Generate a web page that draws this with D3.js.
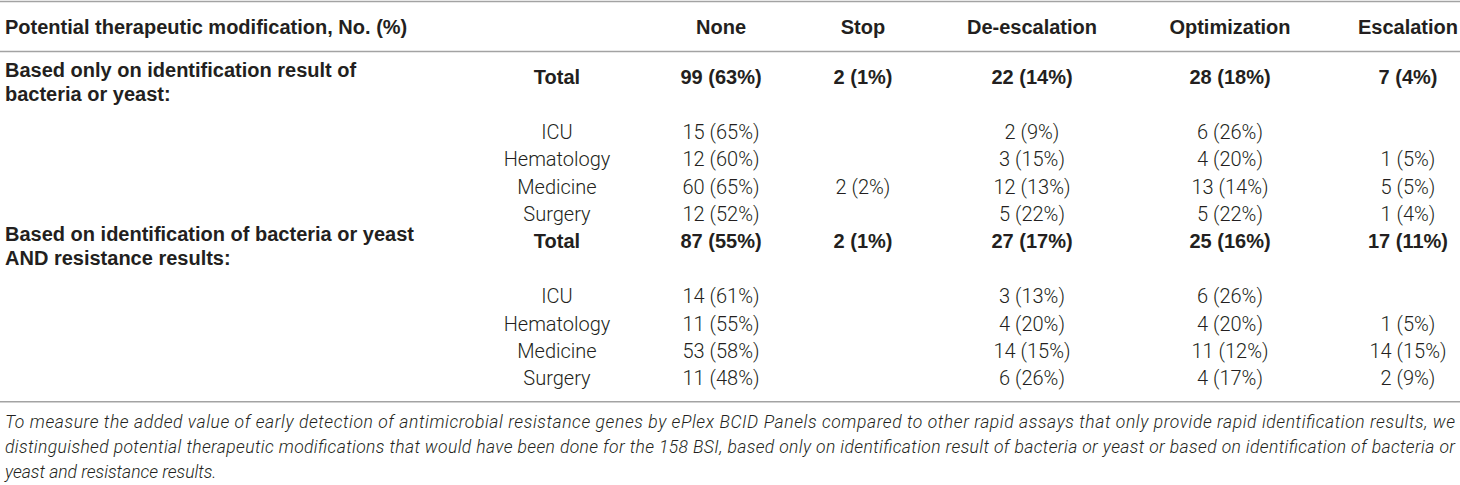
<!DOCTYPE html>
<html>
<head>
<meta charset="utf-8">
<script src="https://cdn.jsdelivr.net/npm/d3@7"></script>
<style>
  body { margin: 0; background: #fff; }
  svg text { fill: #231f20; }
  .bold { font-family: "Liberation Sans", Arial, sans-serif; font-weight: bold; font-size: 20px; }
  .light { font-family: Roboto, "Liberation Sans", sans-serif; font-weight: 300; font-size: 20px; }
  .caption { font-family: Roboto, "Liberation Sans", sans-serif; font-weight: 300; font-style: italic; font-size: 17.5px; }
</style>
</head>
<body>
<div id="table"></div>
<script>
// DATA
const headerLabel = "Potential therapeutic modification, No. (%)";
const columns = ["None", "Stop", "De-escalation", "Optimization", "Escalation"];
const units = ["Total", "ICU", "Hematology", "Medicine", "Surgery"];
const groupLabels = [
  ["Based only on identification result of", "bacteria or yeast:"],
  ["Based on identification of bacteria or yeast", "AND resistance results:"]
];

// counts / percents, rows follow `units`, cols follow `columns`
const idOnlyCounts = [[99, 2, 22, 28, 7], [15, null, 2, 6, null], [12, null, 3, 4, 1], [60, 2, 12, 13, 5], [12, null, 5, 5, 1]];
const idOnlyPct    = [[63, 1, 14, 18, 4], [65, null, 9, 26, null], [60, null, 15, 20, 5], [65, 2, 13, 14, 5], [52, null, 22, 22, 4]];
const resCounts    = [[87, 2, 27, 25, 17], [14, null, 3, 6, null], [11, null, 4, 4, 1], [53, null, 14, 11, 14], [11, null, 6, 4, 2]];
const resPct       = [[55, 1, 17, 16, 11], [61, null, 13, 26, null], [55, null, 20, 20, 5], [58, null, 15, 12, 15], [48, null, 26, 17, 9]];

const captionLines = [
  "To measure the added value of early detection of antimicrobial resistance genes by ePlex BCID Panels compared to other rapid assays that only provide rapid identification results, we",
  "distinguished potential therapeutic modifications that would have been done for the 158 BSI, based only on identification result of bacteria or yeast or based on identification of bacteria or",
  "yeast and resistance results."
];

// LAYOUT
const width = 1460, height = 485;
const svg = d3.select("#table").append("svg")
  .attr("width", width)
  .attr("height", height);

const xCol = d3.scaleOrdinal()
  .domain(["unit", ...columns])
  .range([557, 721, 863, 1032, 1230, 1408]);

// row index: 0 total, 1 wrapped line, 2-5 units, 6 total, 7 wrapped, 8-11 units
const yRow = d3.scaleLinear().domain([0, 11]).range([77, 378.4]);

// rules
svg.selectAll("line.rule")
  .data([1.5, 51.5, 401.7])
  .enter().append("line")
    .attr("class", "rule")
    .attr("x1", 0).attr("x2", width)
    .attr("y1", d => d).attr("y2", d => d)
    .attr("stroke", "#a3a3a3")
    .attr("stroke-width", 1.6);

// header
svg.append("text")
  .attr("class", "bold")
  .attr("x", 5).attr("y", 27).attr("dy", "0.35em")
  .text(headerLabel);

svg.selectAll("text.colhead")
  .data(columns)
  .enter().append("text")
    .attr("class", "bold colhead")
    .attr("x", d => xCol(d)).attr("y", 27).attr("dy", "0.35em")
    .attr("text-anchor", "middle")
    .text(d => d);

// body
const fmt = (n, p) => n == null ? "" : `${n} (${p}%)`;
const groups = [
  { label: groupLabels[0], counts: idOnlyCounts, pct: idOnlyPct, start: 0 },
  { label: groupLabels[1], counts: resCounts, pct: resPct, start: 6 }
];

groups.forEach(g => {
  const gLabel = svg.append("text")
    .attr("class", "bold")
    .attr("x", 5).attr("y", yRow(g.start)).attr("dy", "0.35em");
  gLabel.selectAll("tspan")
    .data(g.label)
    .enter().append("tspan")
      .attr("x", 5)
      .attr("dy", (d, i) => i === 0 ? 0 : 24)
      .text(d => d);

  units.forEach((u, r) => {
    const idx = r === 0 ? g.start : g.start + r + 1;
    const cls = r === 0 ? "bold" : "light";
    svg.append("text")
      .attr("class", cls)
      .attr("x", xCol("unit")).attr("y", yRow(idx)).attr("dy", "0.35em")
      .attr("text-anchor", "middle")
      .text(u);

    svg.selectAll(null)
      .data(columns.map((c, j) => ({ c, v: fmt(g.counts[r][j], g.pct[r][j]) })))
      .enter().append("text")
        .attr("class", cls)
        .attr("x", d => xCol(d.c)).attr("y", yRow(idx)).attr("dy", "0.35em")
        .attr("text-anchor", "middle")
        .text(d => d.v);
  });
});

// caption
svg.selectAll("text.caption")
  .data(captionLines)
  .enter().append("text")
    .attr("class", "caption")
    .attr("x", 5)
    .attr("y", (d, i) => 422 + i * 25)
    .attr("dy", "0.35em")
    .each(function (d, i) {
      if (i < captionLines.length - 1) {
        d3.select(this).attr("textLength", 1450).attr("lengthAdjust", "spacing");
      }
    })
    .text(d => d);
</script>
</body>
</html>
